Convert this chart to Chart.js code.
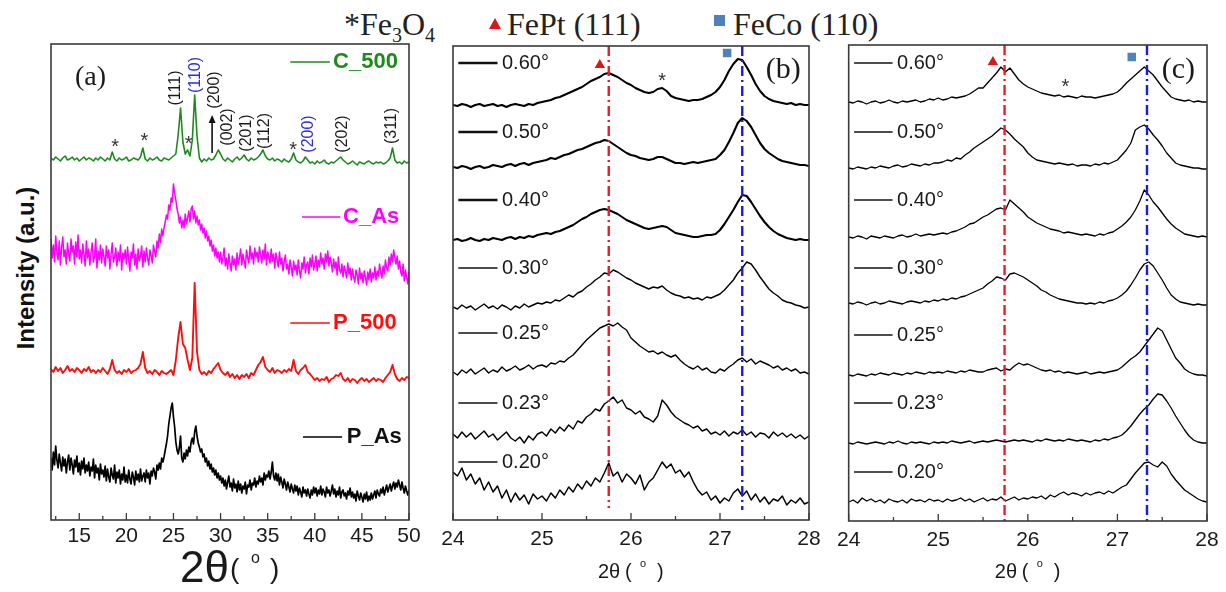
<!DOCTYPE html>
<html>
<head>
<meta charset="utf-8">
<script src="https://cdn.jsdelivr.net/npm/chart.js@4.4.0/dist/chart.umd.min.js"></script>
<style>
  body { margin: 0; width: 1226px; height: 592px; background: #fff; position: relative; overflow: hidden; }
  canvas { position: absolute; top: 0; }
  #xrdA { left: 0; }
  #xrdB { left: 430px; }
  #xrdC { left: 830px; }
  .hdr { position: absolute; font-family: 'Liberation Serif', 'Times New Roman', serif; font-size: 32px; line-height: 32px; color: #222; white-space: nowrap; }
  .hdr sub { font-size: 20px; vertical-align: -7px; }
  .tri { position: absolute; width: 0; height: 0; border-left: 6px solid transparent; border-right: 6px solid transparent; border-bottom: 11px solid #d7191c; }
  .sq { position: absolute; width: 11px; height: 11px; background: #4f81bd; }
  .ytitle { position: absolute; left: -123px; top: 253px; width: 300px; height: 30px; line-height: 30px; text-align: center;
            font: bold 24px 'Liberation Sans', Arial, sans-serif; color: #111; transform: rotate(-90deg); }
</style>
</head>
<body>
<div class="hdr" style="left:344px;top:8px">*Fe<sub>3</sub>O<sub>4</sub></div>
<div class="tri" style="left:489px;top:18px"></div>
<div class="hdr" style="left:507px;top:8px">FePt (111)</div>
<div class="sq" style="left:714px;top:15px"></div>
<div class="hdr" style="left:733px;top:8px">FeCo (110)</div>
<div class="ytitle">Intensity (a.u.)</div>

<canvas id="xrdA" width="425" height="592"></canvas>
<canvas id="xrdB" width="400" height="592"></canvas>
<canvas id="xrdC" width="396" height="592"></canvas>

<script>
const SANS = "'Liberation Sans', Arial, sans-serif";
const SERIF = "'Liberation Serif', 'Times New Roman', serif";

// panel (a): 2theta from 12 to 50; annealed scans sampled every 0.25 deg,
// as-prepared scans every 0.125 deg
const thetaStartA = 12, thetaStepA = 0.25, thetaStepFine = 0.125;
const ticksA = [15, 20, 25, 30, 35, 40, 45, 50];
const minorTicksA = [12.5, 17.5, 22.5, 27.5, 32.5, 37.5, 42.5, 47.5];

const c500 = [362,360,363,361,359,362,364,360,361,363,360,362,359,361,363,360,362,361,359,362,
  360,363,361,359,362,360,368,361,359,362,360,361,363,359,360,362,361,360,363,372,
  361,359,362,360,361,363,360,359,362,361,360,362,364,366,385,412,378,366,370,364,
  380,425,384,362,358,361,359,362,360,361,365,370,366,361,359,362,360,358,361,363,
  360,362,365,361,359,362,360,361,363,366,370,364,361,360,362,359,361,360,358,361,
  359,358,361,367,360,358,357,359,363,360,357,358,356,359,357,358,360,357,356,358,
  357,359,361,363,360,358,356,357,359,357,355,358,357,356,358,359,357,356,358,357,
  358,356,357,359,362,372,360,357,358,356,359,357,358];

const cAs = [281,262,275,258,284,267,260,279,255,272,283,263,270,256,277,266,
  259,281,268,274,256,278,263,285,261,270,257,276,266,254,279,262,
  271,255,268,277,258,264,281,252,269,260,275,257,271,263,254,274,
  262,270,251,266,277,258,263,272,254,268,259,275,250,267,261,270,
  256,273,260,249,268,262,276,255,266,251,271,259,264,274,253,269,
  258,272,262,255,270,264,257,275,268,263,279,272,286,277,291,284,
  292,298,305,301,315,310,322,318,336,327,320,311,306,297,303,292,
  300,292,306,296,302,309,298,311,314,301,309,297,304,295,300,290,
  296,287,292,282,289,279,284,274,280,269,275,264,272,262,268,258,
  268,256,263,272,254,262,251,266,257,249,264,255,261,250,267,256,
  262,271,255,266,259,252,270,262,257,274,261,267,256,272,263,268,
  258,273,265,257,270,261,276,255,268,262,257,271,259,266,252,267,
  260,253,268,256,262,249,258,265,251,256,246,260,253,244,259,250,
  255,245,260,249,242,257,251,263,247,255,258,246,262,253,265,250,
  256,264,249,260,253,267,256,262,251,266,258,269,254,263,257,248,
  261,252,258,245,263,250,247,256,243,254,249,242,257,246,252,240,
  251,243,238,250,245,236,252,241,247,237,249,243,235,248,240,251,
  238,247,242,253,240,249,244,256,248,242,254,246,260,252,249,263,
  255,266,258,270,262,256,264,251,259,248,244,256,239,250,243,236,
  248];

const p500 = [151,148,153,149,152,147,150,154,149,151,148,152,150,147,151,149,153,148,150,147,
  150,148,152,149,146,151,160,150,147,149,146,150,148,151,147,149,150,152,156,168,
  152,147,149,146,150,148,145,149,147,146,148,150,145,160,182,198,176,172,160,150,
  162,237,168,150,146,148,145,149,147,151,154,157,150,147,145,148,143,146,142,145,
  141,145,143,146,142,147,145,150,155,158,163,153,150,148,152,147,150,149,147,150,
  148,151,149,160,149,146,150,152,155,148,146,143,140,142,139,141,140,143,138,141,
  142,145,144,147,141,139,142,138,141,140,137,140,142,139,141,138,140,142,139,141,
  140,138,142,145,148,155,146,141,139,142,140,143,142];

const pAs = [62,50,68,55,74,60,52,66,57,49,63,54,61,47,58,65,
  50,62,55,46,60,53,64,48,57,45,59,51,62,47,55,49,
  58,44,53,49,61,42,55,47,52,40,56,46,50,43,54,39,
  51,43,38,52,45,41,55,37,48,42,50,36,46,40,53,38,
  45,37,50,41,36,48,43,35,49,40,46,38,51,39,44,47,
  38,50,42,47,36,49,44,52,48,41,55,50,57,51,62,58,
  63,70,76,84,96,104,112,117,103,93,78,70,66,72,84,62,
  58,67,61,70,64,73,68,78,82,76,88,94,84,77,73,68,
  71,63,66,58,62,54,59,51,56,48,52,45,50,42,47,40,
  44,37,42,34,40,31,38,44,33,37,29,41,32,36,28,39,
  30,36,27,34,31,38,26,35,33,40,30,37,35,42,33,39,
  36,44,38,42,35,47,40,45,43,49,41,48,58,44,40,47,
  39,46,35,43,38,32,41,36,30,38,33,28,36,31,27,35,
  29,34,25,32,28,23,33,27,30,24,31,26,22,30,25,33,
  27,32,24,30,26,34,25,31,28,23,33,27,30,24,29,35,
  26,31,23,29,25,33,22,28,30,24,27,21,29,25,32,23,
  28,22,26,19,29,24,20,27,23,18,26,21,28,19,24,20,
  27,21,25,29,22,30,26,24,31,27,33,25,30,35,28,32,
  36,29,34,38,31,37,33,40,35,30,38,32,27,34,29,25,
  30];

// panels (b) and (c): 2theta 24..28 in 0.05 deg steps, one trace per incidence angle
const thetaStartBC = 24, thetaStepBC = 0.05;
const ticksBC = [24, 25, 26, 27, 28];
const minorTicksBC = [24.5, 25.5, 26.5, 27.5];
const angles = ['0.60°', '0.50°', '0.40°', '0.30°', '0.25°', '0.23°', '0.20°'];

const filmB = [
  [415,414,416,415,413,415,416,414,415,416,414,415,413,415,416,415,414,416,415,417,
   418,419,420,422,423,425,427,429,431,433,436,439,441,443,446,447,445,443,440,437,
   435,432,430,428,427,428,431,432,429,424,422,421,420,419,420,420,421,423,425,428,
   433,440,449,456,461,460,453,445,436,429,424,421,419,418,417,416,417,415,416,415,415],
  [353,352,354,353,351,353,354,352,353,355,354,353,355,356,354,356,357,355,357,358,
   359,360,362,361,363,365,366,368,370,371,373,375,377,378,380,379,376,373,370,367,
   365,364,362,361,360,361,363,363,361,359,357,357,356,357,358,357,358,359,360,361,
   365,370,378,387,397,402,399,393,385,377,371,367,364,361,359,358,357,356,355,355,354],
  [280,281,279,280,282,280,279,281,280,282,281,280,282,283,281,283,282,284,283,285,
   286,287,286,288,289,291,293,295,298,301,303,306,308,310,311,310,308,306,303,300,
   298,296,294,292,291,292,293,294,293,290,287,286,285,284,283,283,284,285,285,286,
   290,296,303,310,318,325,324,318,311,304,298,293,289,286,284,282,281,280,281,280,280],
  [213,211,215,212,214,210,213,216,212,214,211,215,213,210,214,212,216,213,215,217,
   216,218,217,220,219,222,225,223,227,229,233,236,240,243,247,246,250,248,245,242,
   240,237,235,233,231,233,232,234,230,227,225,224,222,223,221,222,220,223,222,224,
   226,230,235,240,247,252,258,256,250,243,237,231,227,224,220,218,217,215,214,212,213],
  [148,145,150,147,151,146,149,152,147,150,148,153,149,151,154,150,152,155,151,154,
   155,153,157,156,159,158,162,165,170,175,180,184,188,192,194,196,194,197,193,190,
   182,178,174,171,168,169,166,168,165,163,165,160,156,153,151,154,150,152,148,147,
   151,149,153,156,160,162,158,161,156,159,157,155,152,154,150,152,149,151,147,148,146],
  [86,82,88,83,87,81,85,89,83,86,80,84,88,82,79,83,77,84,80,86,
   88,84,91,87,93,89,95,91,99,97,103,106,111,109,116,119,123,117,120,112,
   110,106,109,103,101,98,104,120,115,108,103,100,97,95,92,94,89,91,86,88,
   85,89,84,88,86,90,85,88,83,87,86,82,88,84,87,83,86,82,85,81,84],
  [48,44,52,40,46,36,42,30,38,28,34,22,30,18,27,20,25,16,26,21,
   24,19,27,22,30,25,33,28,36,31,39,34,42,38,47,57,44,48,38,46,
   42,36,45,30,38,42,50,58,52,56,47,50,43,48,38,30,25,28,20,24,
   17,22,19,27,31,24,29,20,26,18,23,16,21,19,24,15,20,17,22,16,18]
];

const filmC = [
  [419,418,420,419,417,419,420,418,419,421,419,418,420,419,420,421,419,420,422,421,
   423,421,422,424,423,424,425,427,430,433,433,438,443,448,454,449,453,447,441,437,
   434,432,430,428,427,426,425,426,424,425,424,423,425,424,424,423,424,425,426,427,
   429,433,438,442,446,450,454,450,446,440,434,429,424,422,421,420,421,419,420,419,419],
  [353,352,354,353,352,354,353,355,354,353,355,356,354,355,357,356,355,357,356,358,
   358,359,361,360,363,362,366,369,373,376,379,382,385,389,393,391,387,382,378,374,
   368,364,361,360,359,358,357,358,357,356,357,355,356,356,355,357,356,358,357,359,
   361,366,371,378,391,394,396,392,386,381,375,368,363,358,356,355,354,353,353,352,352],
  [284,283,285,284,282,285,284,283,285,284,283,285,286,284,285,287,285,286,287,286,
   287,288,287,289,290,292,294,297,298,301,304,306,309,312,313,311,321,317,313,309,
   304,301,298,296,294,292,291,290,288,289,288,287,286,287,286,285,287,286,288,289,
   292,295,299,304,311,320,331,326,319,314,308,302,297,293,290,287,286,285,284,285,284],
  [218,217,219,218,216,218,219,217,218,220,219,218,217,219,220,219,218,220,219,221,
   220,222,221,223,222,224,225,227,229,231,233,237,240,244,243,241,247,248,246,244,
   241,238,235,231,229,226,224,222,221,220,219,218,218,217,218,217,219,218,220,221,
   223,226,230,236,243,251,257,259,255,248,241,233,226,222,219,218,217,216,217,216,216],
  [146,145,147,146,145,147,146,148,147,146,148,147,146,148,147,149,148,147,149,148,
   149,148,150,149,148,150,149,151,150,149,149,151,152,153,150,152,151,155,158,156,
   157,155,153,151,150,151,149,150,148,149,148,147,148,149,147,148,149,148,149,150,
   151,154,158,162,165,169,175,181,187,193,190,181,172,163,158,152,149,147,146,146,145],
  [78,77,79,78,77,78,79,78,77,79,78,80,78,77,79,78,79,78,77,79,
   78,79,78,80,79,78,79,80,78,79,80,79,80,81,80,79,80,81,80,81,
   80,79,81,80,82,81,80,81,80,82,81,80,81,80,79,81,80,82,81,83,
   84,86,90,95,101,107,112,116,122,127,126,120,113,105,98,91,85,81,79,78,78],
  [19,21,18,23,20,22,19,21,18,22,20,19,21,18,22,20,21,19,22,20,
   21,19,22,20,21,23,20,22,19,21,23,20,22,21,24,20,22,24,21,23,
   22,24,23,25,22,26,24,27,29,26,28,27,25,28,26,28,29,27,30,28,
   31,34,36,42,48,53,58,59,56,54,59,55,47,41,36,31,28,25,22,20,19]
];

// peak positions marked with dash-dot lines
const fePtB = 25.75, feCoB = 27.25;
const fePtC = 25.74, feCoC = 27.33;

const GREEN = '#1d8a1d', MAGENTA = '#ff00ff', RED = '#ff0d0d';
const DASH_RED = '#ee1c24', DASH_BLUE = '#1a1ae6';

function trace(x0, step, ys, color, width) {
  return {
    data: ys.map((y, i) => ({ x: x0 + i * step, y })),
    borderColor: color, borderWidth: width, pointRadius: 0, fill: false
  };
}

function refLine(x, yTop, yBottom, color) {
  return {
    data: [{ x, y: yTop }, { x, y: yBottom }],
    borderColor: color, borderWidth: 2.4, borderDash: [10, 4, 2, 4], pointRadius: 0
  };
}

function marker(x, y, style, color, r) {
  return {
    data: [{ x, y }], showLine: false, pointStyle: style,
    pointRadius: r, backgroundColor: color, borderColor: color, borderWidth: 0
  };
}

// box frame plus inward tick marks on the bottom axis
function frameTicks(major, minor) {
  return {
    id: 'frameTicks',
    afterDatasetsDraw(chart) {
      const { ctx, chartArea: a, scales: { x } } = chart;
      ctx.save();
      ctx.strokeStyle = '#3a3a3a';
      ctx.lineWidth = 1.6;
      ctx.strokeRect(a.left, a.top, a.right - a.left, a.bottom - a.top);
      ctx.lineWidth = 1.3;
      ctx.beginPath();
      major.forEach(v => { const p = x.getPixelForValue(v); ctx.moveTo(p, a.bottom); ctx.lineTo(p, a.bottom - 7); });
      minor.forEach(v => { const p = x.getPixelForValue(v); ctx.moveTo(p, a.bottom); ctx.lineTo(p, a.bottom - 4); });
      ctx.stroke();
      ctx.restore();
    }
  };
}

// in-plot labels, key lines and arrows given in data coordinates
function notes(cfg) {
  return {
    id: 'notes',
    afterDatasetsDraw(chart) {
      const { ctx, scales: { x, y } } = chart;
      ctx.save();
      (cfg.keys || []).forEach(k => {
        const py = y.getPixelForValue(k.y);
        ctx.strokeStyle = k.color;
        ctx.lineWidth = k.width;
        ctx.beginPath();
        ctx.moveTo(x.getPixelForValue(k.x1), py);
        ctx.lineTo(x.getPixelForValue(k.x2), py);
        ctx.stroke();
      });
      (cfg.arrows || []).forEach(r => {
        const px = x.getPixelForValue(r.x), y1 = y.getPixelForValue(r.y1), y2 = y.getPixelForValue(r.y2);
        ctx.strokeStyle = '#111'; ctx.fillStyle = '#111'; ctx.lineWidth = 1.6;
        ctx.beginPath(); ctx.moveTo(px, y1); ctx.lineTo(px, y2 + 6); ctx.stroke();
        ctx.beginPath(); ctx.moveTo(px, y2); ctx.lineTo(px - 3.5, y2 + 8); ctx.lineTo(px + 3.5, y2 + 8); ctx.closePath(); ctx.fill();
      });
      (cfg.texts || []).forEach(t => {
        ctx.save();
        ctx.translate(x.getPixelForValue(t.x), y.getPixelForValue(t.y));
        if (t.rotate) ctx.rotate(-Math.PI / 2);
        ctx.font = t.style;
        ctx.fillStyle = t.fill || '#1a1a1a';
        ctx.textAlign = t.align || 'center';
        ctx.textBaseline = 'middle';
        ctx.fillText(t.text, 0, 0);
        ctx.restore();
      });
      ctx.restore();
    }
  };
}

// "2θ ( ° )" axis title with a raised small circle
function axisTitle(parts, base) {
  return {
    id: 'axisTitle',
    afterDraw(chart) {
      const { ctx, chartArea: a } = chart;
      const cx = (a.left + a.right) / 2;
      ctx.save();
      ctx.fillStyle = '#1a1a1a';
      ctx.textAlign = 'left';
      ctx.textBaseline = 'alphabetic';
      parts.forEach(p => {
        ctx.font = `${p.size}px ${SANS}`;
        ctx.fillText(p.text, cx + p.dx, base - (p.rise || 0));
      });
      ctx.restore();
    }
  };
}

function panel(id, o) {
  return new Chart(document.getElementById(id), {
    type: 'line',
    data: { datasets: o.datasets },
    options: {
      responsive: false,
      animation: false,
      devicePixelRatio: 1,
      layout: { padding: o.pad },
      plugins: { legend: { display: false }, tooltip: { enabled: false } },
      elements: { line: { tension: 0, borderJoinStyle: 'round' } },
      scales: {
        x: {
          type: 'linear', min: o.xMin, max: o.xMax,
          grid: { display: false, drawTicks: false },
          border: { display: false },
          afterBuildTicks: s => { s.ticks = o.major.map(v => ({ value: v })); },
          afterFit: s => { s.height = o.axisHeight; },
          ticks: { padding: o.tickPad, autoSkip: false, maxRotation: 0, color: '#1a1a1a',
                   font: { family: SANS, size: 21 } }
        },
        y: { display: false, min: 0, max: o.yMax }
      }
    },
    plugins: [frameTicks(o.major, o.minor), notes(o.notes), axisTitle(o.title, o.titleBase)]
  });
}

const bigTitle = [
  { text: '2θ', size: 44, dx: -50 },
  { text: '(', size: 28, dx: 0, rise: 4 },
  { text: 'o', size: 16, dx: 21, rise: 19 },
  { text: ')', size: 28, dx: 40, rise: 4 }
];
const smallTitle = [
  { text: '2θ', size: 20, dx: -33 },
  { text: '(', size: 20, dx: -6 },
  { text: 'o', size: 11, dx: 9, rise: 11 },
  { text: ')', size: 20, dx: 26 }
];

const hklStyle = `16px ${SANS}`;
const starStyle = `20px ${SANS}`;

panel('xrdA', {
  xMin: 12, xMax: 50, yMax: 476,
  pad: { left: 51, right: 16, top: 44, bottom: 0 },
  axisHeight: 72, tickPad: 4,
  major: ticksA, minor: minorTicksA,
  title: bigTitle, titleBase: 582,
  datasets: [
    trace(thetaStartA, thetaStepA, c500, GREEN, 1.6),
    trace(thetaStartA, thetaStepFine, cAs, MAGENTA, 1.5),
    trace(thetaStartA, thetaStepA, p500, RED, 1.9),
    trace(thetaStartA, thetaStepFine, pAs, '#000', 1.7)
  ],
  notes: {
    keys: [
      { x1: 37.4, x2: 41.6, y: 458, color: GREEN, width: 1.6 },
      { x1: 38.65, x2: 42.7, y: 303, color: MAGENTA, width: 1.6 },
      { x1: 37.4, x2: 41.6, y: 197, color: RED, width: 1.6 },
      { x1: 38.75, x2: 42.9, y: 83, color: '#000', width: 1.6 }
    ],
    arrows: [{ x: 29.1, y1: 367, y2: 405 }],
    texts: [
      { x: 41.94, y: 458, text: 'C_500', style: `bold 22px ${SANS}`, fill: GREEN, align: 'left' },
      { x: 43.0, y: 303, text: 'C_As', style: `bold 22px ${SANS}`, fill: MAGENTA, align: 'left' },
      { x: 41.94, y: 197, text: 'P_500', style: `bold 22px ${SANS}`, fill: RED, align: 'left' },
      { x: 43.4, y: 83, text: 'P_As', style: `bold 22px ${SANS}`, fill: '#111', align: 'left' },
      { x: 16.2, y: 442, text: '(a)', style: `28px ${SERIF}` },
      { x: 25.2, y: 432, text: '(111)', style: hklStyle, rotate: true },
      { x: 27.3, y: 445, text: '(110)', style: hklStyle, rotate: true, fill: '#2b2bd9' },
      { x: 29.4, y: 430, text: '(200)', style: hklStyle, rotate: true },
      { x: 30.7, y: 393, text: '(002)', style: hklStyle, rotate: true },
      { x: 32.8, y: 387, text: '(201)', style: hklStyle, rotate: true },
      { x: 34.7, y: 389, text: '(112)', style: hklStyle, rotate: true },
      { x: 39.3, y: 386, text: '(200)', style: hklStyle, rotate: true, fill: '#2b2bd9' },
      { x: 42.9, y: 386, text: '(202)', style: hklStyle, rotate: true },
      { x: 48.2, y: 394, text: '(311)', style: hklStyle, rotate: true },
      { x: 18.8, y: 373, text: '*', style: starStyle, fill: '#333' },
      { x: 21.9, y: 379, text: '*', style: starStyle, fill: '#333' },
      { x: 26.6, y: 376, text: '*', style: starStyle, fill: '#333' },
      { x: 37.7, y: 370, text: '*', style: starStyle, fill: '#333' }
    ]
  }
});

const keyWidthsB = [2.5, 2.5, 2.5, 1.5, 1.5, 1.5, 1.5];
const traceWidthsB = [2.1, 2.1, 2.1, 1.4, 1.4, 1.4, 1.5];
const keyRowsB = [457, 388, 320, 252, 187, 117, 58];
const keyRowsC = [458, 389, 321, 253, 186, 118, 49];

function keyNotes(rows, widths, x1, x2, xt) {
  const keys = [], texts = [];
  rows.forEach((r, i) => {
    keys.push({ x1, x2, y: r, color: '#111', width: widths[i] });
    texts.push({ x: xt, y: r, text: angles[i], style: `20px ${SANS}`, align: 'left' });
  });
  return { keys, texts };
}

const notesB = keyNotes(keyRowsB, keyWidthsB, 24.06, 24.5, 24.55);
notesB.texts.push(
  { x: 26.35, y: 439, text: '*', style: starStyle, fill: '#333' },
  { x: 27.71, y: 450, text: '(b)', style: `30px ${SERIF}` }
);

panel('xrdB', {
  xMin: 24, xMax: 28, yMax: 474,
  pad: { left: 23, right: 21, top: 46, bottom: 0 },
  axisHeight: 72, tickPad: 7,
  major: ticksBC, minor: minorTicksBC,
  title: smallTitle, titleBase: 578,
  datasets: [
    refLine(fePtB, 474, 12, DASH_RED),
    refLine(feCoB, 474, 10, DASH_BLUE),
    marker(25.65, 455, 'triangle', '#d7191c', 6),
    marker(27.08, 467, 'rect', '#4f81bd', 6),
    ...filmB.map((ys, i) => trace(thetaStartBC, thetaStepBC, ys, '#000', traceWidthsB[i]))
  ],
  notes: notesB
});

const keyWidthsC = [1.5, 1.5, 1.5, 1.5, 1.5, 1.5, 1.5];
const notesC = keyNotes(keyRowsC, keyWidthsC, 24.06, 24.49, 24.54);
notesC.texts.push(
  { x: 26.42, y: 434, text: '*', style: starStyle, fill: '#333' },
  { x: 27.68, y: 451, text: '(c)', style: `30px ${SERIF}` }
);

panel('xrdC', {
  xMin: 24, xMax: 28, yMax: 476,
  pad: { left: 13, right: 19, top: 45, bottom: 0 },
  axisHeight: 71, tickPad: 7,
  major: ticksBC, minor: minorTicksBC,
  title: smallTitle, titleBase: 578,
  datasets: [
    refLine(fePtC, 476, 0, DASH_RED),
    refLine(feCoC, 476, 0, DASH_BLUE),
    marker(25.61, 459, 'triangle', '#d7191c', 6),
    marker(27.16, 464, 'rect', '#4f81bd', 6),
    ...filmC.map(ys => trace(thetaStartBC, thetaStepBC, ys, '#000', 1.3))
  ],
  notes: notesC
});
</script>
</body>
</html>
